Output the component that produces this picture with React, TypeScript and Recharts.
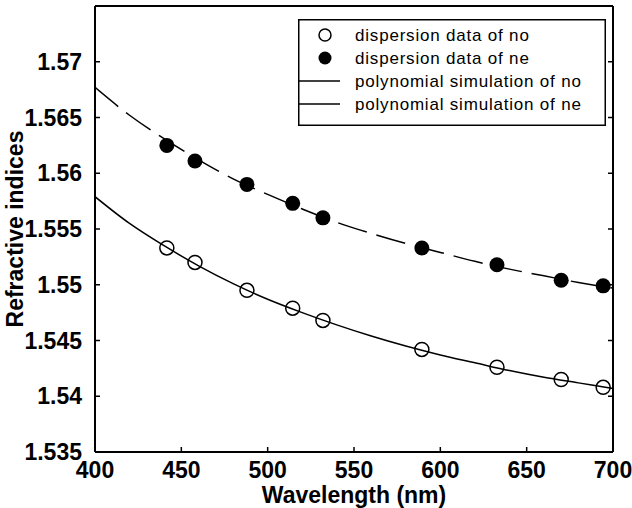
import React from "react";
import { ComposedChart, Line, XAxis, YAxis, Legend } from "recharts";

const pointWavelengths = [441.6, 457.9, 488, 514.5, 532, 589.3, 632.8, 670, 694.3];
const noPoints = [1.5533, 1.552, 1.5495, 1.5479, 1.5468, 1.5442, 1.5426, 1.5415, 1.5408];
const nePoints = [1.5625, 1.5611, 1.559, 1.5573, 1.556, 1.5533, 1.5518, 1.5504, 1.5499];

// fitted curves, sampled from the plot
const fitWavelengths = [400, 420, 440, 460, 480, 500, 520, 540, 560, 580, 600, 620, 640, 660, 680, 700];
const noFit = [1.5579, 1.5555, 1.5535, 1.5517, 1.5501, 1.5487, 1.5475, 1.5464, 1.5454, 1.5445, 1.5437, 1.543, 1.5423, 1.5417, 1.5412, 1.5407];
const neFit = [1.5677, 1.5652, 1.5631, 1.5612, 1.5595, 1.5581, 1.5568, 1.5556, 1.5546, 1.5537, 1.5529, 1.5521, 1.5514, 1.5508, 1.5502, 1.5497];

const xTicks = [400, 450, 500, 550, 600, 650, 700];
const yTicks = [1.535, 1.54, 1.545, 1.55, 1.555, 1.56, 1.565, 1.57];
const legendLabels = [
  "dispersion data of no",
  "dispersion data of ne",
  "polynomial simulation of no",
  "polynomial simulation of ne",
];

const zip = (xs: number[], ys: number[]) => xs.map((wl, i) => ({ wl, n: ys[i] }));

const FONT = "'Liberation Sans', Arial, Helvetica, sans-serif";
const axisLine = { stroke: "#000", strokeWidth: 2 };

const BottomTick = ({ x, y, payload }: any) => (
  <g>
    <line x1={x} x2={x} y1={y} y2={y - 5} stroke="#000" strokeWidth={1.5} />
    <text x={x} y={y + 26} textAnchor="middle" fontSize={23} fontWeight="bold" fontFamily={FONT} fill="#000">
      {payload.value}
    </text>
  </g>
);

const LeftTick = ({ x, y, payload }: any) => (
  <g>
    <line x1={x} x2={x + 5} y1={y} y2={y} stroke="#000" strokeWidth={1.5} />
    <text x={x - 13} y={y + 8} textAnchor="end" fontSize={23} fontWeight="bold" fontFamily={FONT} fill="#000">
      {payload.value}
    </text>
  </g>
);

const TopTick = ({ x, y }: any) => <line x1={x} x2={x} y1={y} y2={y + 5} stroke="#000" strokeWidth={1.5} />;
const RightTick = ({ x, y }: any) => <line x1={x} x2={x - 5} y1={y} y2={y} stroke="#000" strokeWidth={1.5} />;

const YTitle = ({ viewBox }: any) => {
  const cx = viewBox.x + 23;
  const cy = viewBox.y + viewBox.height / 2;
  return (
    <text
      x={cx}
      y={cy}
      transform={`rotate(-90 ${cx} ${cy})`}
      textAnchor="middle"
      fontSize={23}
      fontWeight="bold"
      fontFamily={FONT}
      fill="#000"
    >
      Refractive indices
    </text>
  );
};

const LegendBox = () => (
  <svg width={308} height={107} style={{ display: "block" }}>
    <rect x={0.75} y={0.75} width={306.5} height={105.5} fill="#fff" stroke="#000" strokeWidth={1.5} />
    {legendLabels.map((label, i) => {
      const cy = 16 + i * 23;
      return (
        <g key={label}>
          {i === 0 && <circle cx={27} cy={cy} r={6} fill="none" stroke="#000" strokeWidth={1.5} />}
          {i === 1 && <circle cx={27} cy={cy} r={6.5} fill="#000" />}
          {i > 1 && <line x1={1} x2={42} y1={cy} y2={cy} stroke="#000" strokeWidth={1.5} />}
          <text x={57} y={cy + 6} fontSize={17} letterSpacing={0.8} fontFamily={FONT} fill="#000">
            {label}
          </text>
        </g>
      );
    })}
  </svg>
);

export default function App() {
  return (
    <div style={{ position: "absolute", left: 0, top: 0, background: "#fff" }}>
      <ComposedChart width={632} height={508} margin={{ top: 0, right: 0, bottom: 0, left: 0 }}>
        <XAxis
          type="number"
          dataKey="wl"
          domain={[400, 700]}
          ticks={xTicks}
          interval={0}
          height={56}
          allowDataOverflow
          axisLine={axisLine}
          tickLine={false}
          tickSize={0}
          tickMargin={0}
          tick={<BottomTick />}
          label={{ value: "Wavelength (nm)", position: "insideBottom", offset: 5, fontSize: 23, fontWeight: "bold", fontFamily: FONT, fill: "#000" }}
        />
        <XAxis
          xAxisId="top"
          orientation="top"
          type="number"
          domain={[400, 700]}
          ticks={xTicks}
          interval={0}
          height={6}
          allowDataOverflow
          axisLine={axisLine}
          tickLine={false}
          tickSize={0}
          tickMargin={0}
          tick={<TopTick />}
        />
        <YAxis
          type="number"
          domain={[1.535, 1.575]}
          ticks={yTicks}
          interval={0}
          width={95}
          allowDataOverflow
          axisLine={axisLine}
          tickLine={false}
          tickSize={0}
          tickMargin={0}
          tick={<LeftTick />}
          label={<YTitle />}
        />
        <YAxis
          yAxisId="right"
          orientation="right"
          type="number"
          domain={[1.535, 1.575]}
          ticks={yTicks}
          interval={0}
          width={19}
          allowDataOverflow
          axisLine={axisLine}
          tickLine={false}
          tickSize={0}
          tickMargin={0}
          tick={<RightTick />}
        />
        <Line
          data={zip(fitWavelengths, noFit)}
          dataKey="n"
          type="monotone"
          stroke="#000"
          strokeWidth={1.5}
          dot={false}
          activeDot={false}
          isAnimationActive={false}
        />
        <Line
          data={zip(fitWavelengths, neFit)}
          dataKey="n"
          type="monotone"
          stroke="#000"
          strokeWidth={1.5}
          strokeDasharray="30 10"
          dot={false}
          activeDot={false}
          isAnimationActive={false}
        />
        <Line
          data={zip(pointWavelengths, noPoints)}
          dataKey="n"
          stroke="none"
          dot={{ r: 7, fill: "none", stroke: "#000", strokeWidth: 1.5 }}
          activeDot={false}
          isAnimationActive={false}
        />
        <Line
          data={zip(pointWavelengths, nePoints)}
          dataKey="n"
          stroke="none"
          dot={{ r: 7.5, fill: "#000", stroke: "#000", strokeWidth: 0 }}
          activeDot={false}
          isAnimationActive={false}
        />
        <Legend
          layout="vertical"
          align="center"
          verticalAlign="middle"
          width={308}
          height={107}
          wrapperStyle={{ left: 298, top: 19, width: 308, height: 107 }}
          content={<LegendBox />}
        />
      </ComposedChart>
    </div>
  );
}
